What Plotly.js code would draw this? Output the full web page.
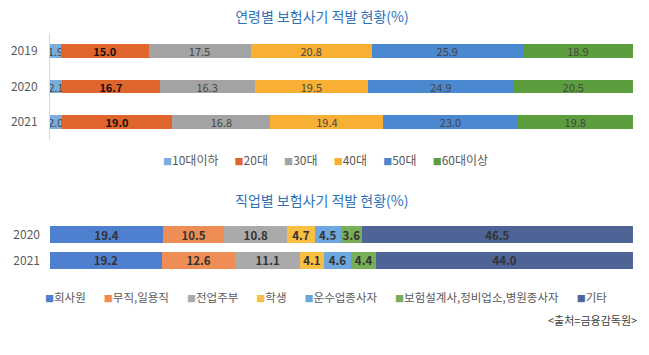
<!DOCTYPE html>
<html><head><meta charset="utf-8">
<script src="https://cdn.plot.ly/plotly-3.0.1.min.js"></script>
<style>html,body{margin:0;padding:0;background:#fff}#chart{width:649px;height:355px}</style>
</head><body><div id="chart"></div>
<script>
// ---- Chart 1: 연령별 ----
const ageYears = ['2019', '2020', '2021'];
const ageGroups = ['10대이하', '20대', '30대', '40대', '50대', '60대이상'];
const age10 = [1.9, 2.1, 2.0];
const age20 = [15.0, 16.7, 19.0];
const age30 = [17.5, 16.3, 16.8];
const age40 = [20.8, 19.5, 19.4];
const age50 = [25.9, 24.9, 23.0];
const age60 = [18.9, 20.5, 19.8];
const ageColors = ['#7aaddc', '#e0652c', '#a3a3a3', '#f7b034', '#4a88d0', '#5c9e3d'];

// ---- Chart 2: 직업별 ----
const jobYears = ['2020', '2021'];
const jobGroups = ['회사원', '무직,일용직', '전업주부', '학생', '운수업종사자', '보험설계사,정비업소,병원종사자', '기타'];
const jobOffice = [19.4, 19.2];
const jobUnemployed = [10.5, 12.6];
const jobHomemaker = [10.8, 11.1];
const jobStudent = [4.7, 4.1];
const jobTransport = [4.5, 4.6];
const jobInsurance = [3.6, 4.4];
const jobOther = [46.5, 44.0];
const jobColors = ['#4f80cf', '#ef8d57', '#aaaaaa', '#f8bf42', '#6ea7dd', '#77ae57', '#4f6496'];

const title1 = '연령별 보험사기 적발 현황(%)';
const title2 = '직업별 보험사기 적발 현황(%)';
const sourceText = '&lt;출처=금융감독원&gt;';

const FONT = 'Noto Sans CJK KR, Noto Sans, sans-serif';

const ageSeries = [age10, age20, age30, age40, age50, age60];
const jobSeries = [jobOffice, jobUnemployed, jobHomemaker, jobStudent, jobTransport, jobInsurance, jobOther];

const traces = [];
ageSeries.forEach((vals, i) => {
  traces.push({
    type: 'bar', orientation: 'h', name: ageGroups[i],
    x: vals, y: ageYears, xaxis: 'x', yaxis: 'y',
    width: 0.39,
    marker: {color: ageColors[i], line: {width: 0}},
    text: vals.map(v => v.toFixed(1)),
    textposition: 'inside', insidetextanchor: 'middle', textangle: 0, constraintext: 'none',
    textfont: {family: FONT, size: 11, color: i === 1 ? '#111111' : '#454545', weight: i === 1 ? 'bold' : 'normal'},
    hoverinfo: 'none', showlegend: false
  });
});
jobSeries.forEach((vals, i) => {
  traces.push({
    type: 'bar', orientation: 'h', name: jobGroups[i],
    x: vals, y: jobYears, xaxis: 'x2', yaxis: 'y2',
    width: 0.65,
    marker: {color: jobColors[i], line: {width: 0}},
    text: vals.map(v => v.toFixed(1)),
    textposition: 'inside', insidetextanchor: 'middle', textangle: 0, constraintext: 'none',
    textfont: {family: FONT, size: 11.5, color: '#333333', weight: 'bold'},
    hoverinfo: 'none', showlegend: false
  });
});

function legendText(names, colors, gap) {
  return names.map((n, i) => `<span style="color:${colors[i]};font-size:9px">■</span>${n}`).join('\u00a0'.repeat(gap));
}

const layout = {
  width: 649, height: 355,
  margin: {l: 0, r: 0, t: 0, b: 0},
  paper_bgcolor: '#ffffff', plot_bgcolor: '#ffffff',
  barmode: 'stack', bargap: 0, showlegend: false,
  font: {family: FONT, color: '#595959'},
  title: {text: title1, x: 0.496, xanchor: 'center', y: 0.952, yanchor: 'middle',
          font: {family: FONT, size: 14, color: '#2f72b8'}},
  xaxis: {domain: [0.077, 0.9753], range: [0, 100], visible: false, anchor: 'y'},
  yaxis: {domain: [0.6056, 0.907], type: 'category', range: [2.5, -0.5], anchor: 'x',
          showline: true, linecolor: '#d9d9d9', linewidth: 1, ticks: '', showgrid: false, zeroline: false,
          tickfont: {family: FONT, size: 12, color: '#595959'}, ticklabelstandoff: 9},
  xaxis2: {domain: [0.077, 0.9753], range: [0, 100], visible: false, anchor: 'y2'},
  yaxis2: {domain: [0.2296, 0.376], type: 'category', range: [1.5, -0.5], anchor: 'x2',
           showline: false, ticks: '', showgrid: false, zeroline: false,
           tickfont: {family: FONT, size: 12, color: '#595959'}, ticklabelstandoff: 9},
  annotations: [
    {text: title2, xref: 'paper', yref: 'paper', x: 0.496, y: 0.437, xanchor: 'center', yanchor: 'middle',
     showarrow: false, font: {family: FONT, size: 14, color: '#2f72b8'}},
    {text: legendText(ageGroups, ageColors, 6), xref: 'paper', yref: 'paper', x: 0.502, y: 0.552,
     xanchor: 'center', yanchor: 'middle', showarrow: false, font: {family: FONT, size: 12, color: '#595959'}},
    {text: legendText(jobGroups, jobColors, 7), xref: 'paper', yref: 'paper', x: 0.502, y: 0.163,
     xanchor: 'center', yanchor: 'middle', showarrow: false, font: {family: FONT, size: 11.5, color: '#595959'}},
    {text: sourceText, xref: 'paper', yref: 'paper', x: 0.985, y: 0.0986, xanchor: 'right', yanchor: 'middle',
     showarrow: false, font: {family: FONT, size: 11, color: '#404040'}}
  ]
};

Plotly.newPlot('chart', traces, layout, {displayModeBar: false, staticPlot: true});
</script>
</body></html>
